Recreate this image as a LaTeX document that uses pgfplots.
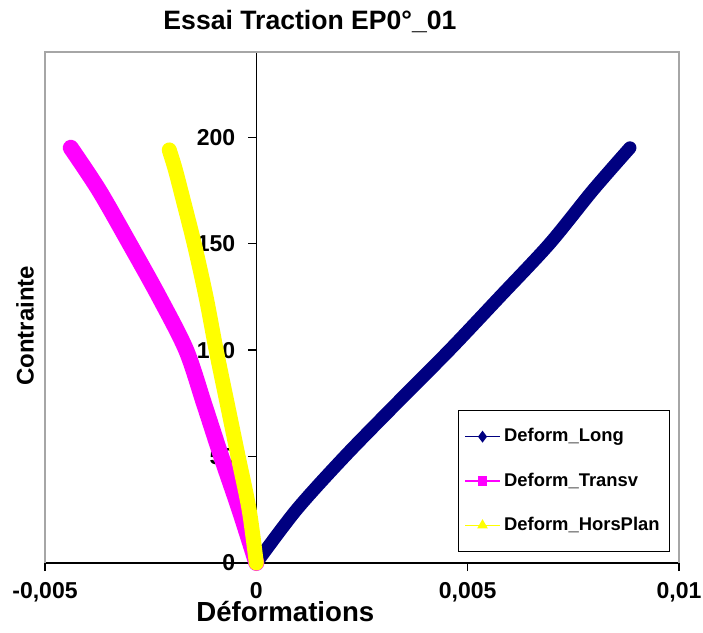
\documentclass[border=0pt]{standalone}
\usepackage{pgfplots}
\pgfplotsset{compat=1.18}
\usepackage{fontspec}
\setmainfont{Liberation Sans}
\definecolor{cLong}{RGB}{0,0,128}
\definecolor{cTrans}{RGB}{255,0,255}
\definecolor{cHors}{RGB}{255,255,0}
\begin{document}
\begin{tikzpicture}
\begin{axis}[
  scale only axis, width=317pt, height=255.5pt,
  xmin=-0.005, xmax=0.01, ymin=0, ymax=240,
  axis lines=middle,
  axis line style={-, black, line width=0.6pt},
  hide obscured x ticks=false, hide obscured y ticks=false,
  xtick={-0.005,0,0.005,0.01}, ytick={0,50,100,150,200},
  minor tick num=0,
  tick align=outside, major tick length=4pt,
  tick style={black, line width=0.6pt},
  scaled x ticks=false,
  /pgf/number format/assume math mode=true,
  /pgf/number format/fixed, /pgf/number format/use comma, /pgf/number format/precision=3,
  ticklabel style={font=\bfseries\fontsize{11.5}{13}\selectfont},
  xticklabel style={yshift=-2pt},
  yticklabel style={xshift=-3pt},
  title={Essai Traction EP0°\_01},
  title style={at={(axis description cs:0.418,1)}, anchor=center, yshift=9.5pt, font=\bfseries\fontsize{13.3}{15}\selectfont},
  xlabel={Déformations},
  xlabel style={at={(axis description cs:0.379,0)}, anchor=center, yshift=-24.5pt, font=\bfseries\fontsize{13.8}{15}\selectfont},
  ylabel={Contrainte},
  ylabel style={at={(axis description cs:0,0.464)}, rotate=90, anchor=center, yshift=10pt, font=\bfseries\fontsize{12}{14}\selectfont},
  clip=false,
  legend style={at={(axis description cs:0.986,0.0215)}, anchor=south east, draw=black, line width=0.5pt,
    font=\bfseries\fontsize{9.2}{11}\selectfont, row sep=10pt, inner xsep=3pt, inner ysep=7pt},
  legend cell align=left,
]
\draw[gray!70, line width=0.6pt] (rel axis cs:0,0) -- (rel axis cs:0,1) -- (rel axis cs:1,1) -- (rel axis cs:1,0);
\addplot[cLong, line width=6.5pt, line cap=round, line join=round, smooth, tension=0.5, forget plot] coordinates {
(0,0) (0.00095,25) (0.00209,50) (0.00332,75) (0.00457,100) (0.00576,125) (0.00694,150) (0.00796,175) (0.00884,195)};
\addlegendimage{cLong, line width=0.6pt, mark=diamond*, mark size=2.5pt}
\addlegendentry{Deform\_Long}
\addplot[cTrans, line width=8pt, line cap=round, line join=round, smooth, tension=0.5, forget plot] coordinates {
(0,0) (-0.00040,25) (-0.00083,50) (-0.00124,75) (-0.00166,100) (-0.00230,125) (-0.00300,150) (-0.00372,175) (-0.00439,195)};
\addlegendimage{cTrans, line width=0.6pt, mark=square*, mark size=2pt}
\addlegendentry{Deform\_Transv}
\addplot[cHors, line width=7.5pt, line cap=round, line join=round, smooth, tension=0.5, forget plot] coordinates {
(0,0) (-0.00017,25) (-0.00043,50) (-0.00069,75) (-0.00095,100) (-0.00119,125) (-0.00147,150) (-0.00175,172) (-0.00192,185) (-0.00206,194)};
\addlegendimage{cHors, line width=0.6pt, mark=triangle*, mark size=2.5pt}
\addlegendentry{Deform\_HorsPlan}
\coordinate (sw) at (rel axis cs:0,0);
\coordinate (ne) at (rel axis cs:1,1);
\end{axis}
\pgfresetboundingbox
\path[use as bounding box] ([shift={(-22.5pt,-35pt)}]sw) rectangle ([shift={(12pt,26pt)}]ne);
\end{tikzpicture}
\end{document}
